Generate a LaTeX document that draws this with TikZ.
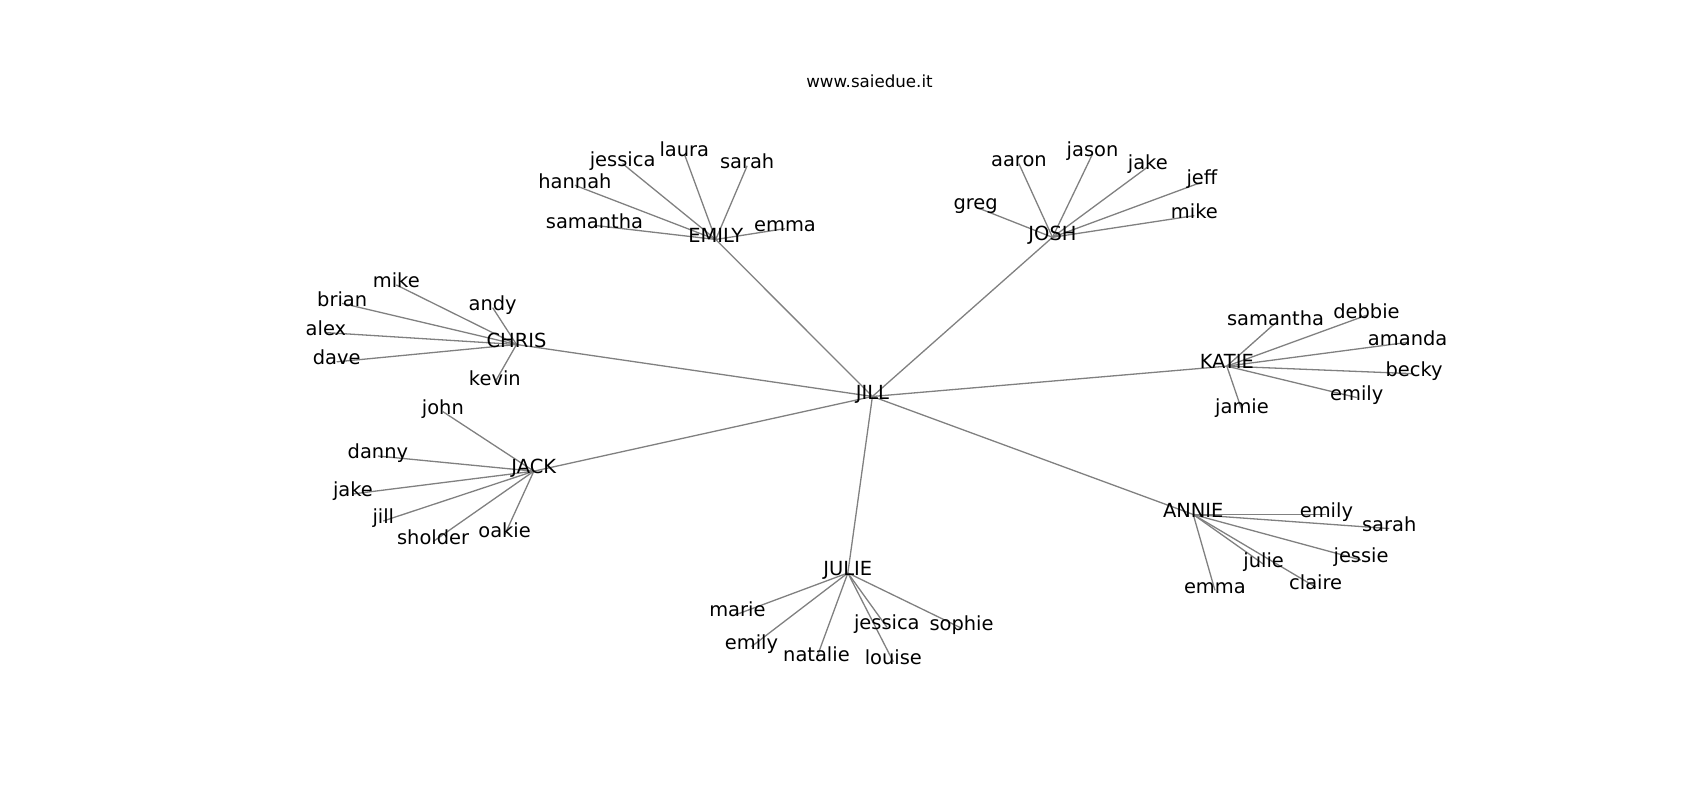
\documentclass[tikz,border=0pt]{standalone}
\usepackage{fontspec}
\setmainfont{DejaVu Sans}
\usetikzlibrary{backgrounds}
\begin{document}
\begin{tikzpicture}[x=1.0828pt,y=-1.0828pt,
  lbl/.style={font=\fontsize{19.44}{23}\selectfont, inner sep=0pt, text height=0.76em, text depth=0.21em, anchor=center, yshift=-4.5pt},
  ttl/.style={font=\fontsize{16.67}{20}\selectfont, inner sep=0pt, text height=0.76em, text depth=0.21em, anchor=center, yshift=-4pt},
  conn/.style={draw=gray, line width=1.3pt}]
\useasboundingbox (0,0) rectangle (1570,738.8);
\node[ttl] (title) at (803,75) {www.saiedue.it};
% center
\node[lbl] (jill) at (805.7,362) {JILL};
% EMILY
\node[lbl] (emily) at (661,217) {EMILY};
\node[lbl] (emJessica) at (575,147) {jessica};
\node[lbl] (emLaura) at (632,138) {laura};
\node[lbl] (emSarah) at (690,149) {sarah};
\node[lbl] (emHannah) at (531,167) {hannah};
\node[lbl] (emSamantha) at (549,204) {samantha};
\node[lbl] (emEmma) at (725,207) {emma};
% JOSH
\node[lbl] (josh) at (972,215) {JOSH};
\node[lbl] (joAaron) at (941,147) {aaron};
\node[lbl] (joJason) at (1009,138) {jason};
\node[lbl] (joJake) at (1060,150) {jake};
\node[lbl] (joJeff) at (1110,164) {jeff};
\node[lbl] (joMike) at (1103,195) {mike};
\node[lbl] (joGreg) at (901,187) {greg};
% CHRIS
\node[lbl] (chris) at (477,314) {CHRIS};
\node[lbl] (chMike) at (366,259) {mike};
\node[lbl] (chBrian) at (316,276) {brian};
\node[lbl] (chAlex) at (301,303) {alex};
\node[lbl] (chDave) at (311,330) {dave};
\node[lbl] (chAndy) at (455,280) {andy};
\node[lbl] (chKevin) at (457,349) {kevin};
% JACK
\node[lbl] (jack) at (493,431) {JACK};
\node[lbl] (jaJohn) at (409,376) {john};
\node[lbl] (jaDanny) at (349,417) {danny};
\node[lbl] (jaJake) at (326,452) {jake};
\node[lbl] (jaJill) at (354,477) {jill};
\node[lbl] (jaSholder) at (400,496) {sholder};
\node[lbl] (jaOakie) at (466,490) {oakie};
% KATIE
\node[lbl] (katie) at (1133,334) {KATIE};
\node[lbl] (kaSamantha) at (1178,294) {samantha};
\node[lbl] (kaDebbie) at (1262,287) {debbie};
\node[lbl] (kaAmanda) at (1300,312) {amanda};
\node[lbl] (kaBecky) at (1306,341) {becky};
\node[lbl] (kaEmily) at (1253,363) {emily};
\node[lbl] (kaJamie) at (1147,375) {jamie};
% ANNIE
\node[lbl] (annie) at (1102,471) {ANNIE};
\node[lbl] (anEmily) at (1225,471) {emily};
\node[lbl] (anSarah) at (1283,484) {sarah};
\node[lbl] (anJessie) at (1257,513) {jessie};
\node[lbl] (anJulie) at (1167,517) {julie};
\node[lbl] (anClaire) at (1215,538) {claire};
\node[lbl] (anEmma) at (1122,541) {emma};
% JULIE
\node[lbl] (julie) at (783,525) {JULIE};
\node[lbl] (juMarie) at (681,563) {marie};
\node[lbl] (juEmily) at (694,593) {emily};
\node[lbl] (juNatalie) at (754,604) {natalie};
\node[lbl] (juJessica) at (819,575) {jessica};
\node[lbl] (juLouise) at (825,607) {louise};
\node[lbl] (juSophie) at (888,576) {sophie};
\begin{pgfonlayer}{background}
\foreach \h in {emily,josh,chris,jack,katie,annie,julie}
  \draw[conn] (jill.center) -- (\h.center);
\foreach \l in {emJessica,emLaura,emSarah,emHannah,emSamantha,emEmma}
  \draw[conn] (emily.center) -- (\l.center);
\foreach \l in {joAaron,joJason,joJake,joJeff,joMike,joGreg}
  \draw[conn] (josh.center) -- (\l.center);
\foreach \l in {chMike,chBrian,chAlex,chDave,chAndy,chKevin}
  \draw[conn] (chris.center) -- (\l.center);
\foreach \l in {jaJohn,jaDanny,jaJake,jaJill,jaSholder,jaOakie}
  \draw[conn] (jack.center) -- (\l.center);
\foreach \l in {kaSamantha,kaDebbie,kaAmanda,kaBecky,kaEmily,kaJamie}
  \draw[conn] (katie.center) -- (\l.center);
\foreach \l in {anEmily,anSarah,anJessie,anJulie,anClaire,anEmma}
  \draw[conn] (annie.center) -- (\l.center);
\foreach \l in {juMarie,juEmily,juNatalie,juJessica,juLouise,juSophie}
  \draw[conn] (julie.center) -- (\l.center);
\end{pgfonlayer}
\end{tikzpicture}
\end{document}
